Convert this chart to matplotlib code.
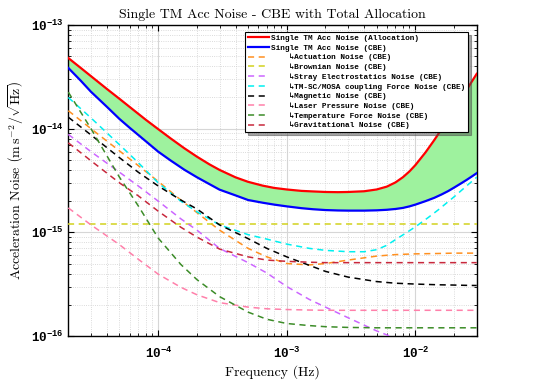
import matplotlib
matplotlib.use("Agg")
from matplotlib import pyplot as plt
from matplotlib.ticker import NullFormatter

# single test mass acceleration noise budget
plt.rcParams['mathtext.fontset'] = 'custom'
plt.rcParams['mathtext.rm'] = 'cmr10'
plt.rcParams['mathtext.bf'] = 'Liberation Mono:bold'
plt.rcParams['axes.unicode_minus'] = True

# totals get a finer frequency grid so the curves stay smooth
freq_tot = [2e-5, 2.5e-5, 3e-5, 4e-5, 5e-5, 6e-5, 8e-5, 1e-4, 1.25e-4, 1.6e-4, 2e-4, 2.5e-4, 3e-4, 4e-4,
            5e-4, 6.5e-4, 8e-4, 1e-3, 1.3e-3, 1.6e-3, 2e-3, 2.5e-3, 3e-3, 4e-3, 5e-3, 6e-3, 7e-3, 8e-3,
            9e-3, 1e-2, 1.2e-2, 1.4e-2, 1.6e-2, 1.8e-2, 2e-2, 2.25e-2, 2.5e-2, 2.75e-2, 3e-2]
allocation = [4.80e-14, 3.85e-14, 3.21e-14, 2.41e-14, 1.94e-14, 1.62e-14, 1.22e-14, 9.9e-15, 8.05e-15, 6.46e-15,
              5.37e-15, 4.53e-15, 4.0e-15, 3.39e-15, 3.07e-15, 2.82e-15, 2.68e-15, 2.59e-15, 2.51e-15, 2.48e-15,
              2.45e-15, 2.44e-15, 2.45e-15, 2.49e-15, 2.59e-15, 2.76e-15, 3.03e-15, 3.40e-15, 3.87e-15, 4.45e-15,
              5.91e-15, 7.73e-15, 9.9e-15, 1.24e-14, 1.52e-14, 1.91e-14, 2.36e-14, 2.85e-14, 3.38e-14]
cbe_total = [3.85e-14, 2.9e-14, 2.27e-14, 1.62e-14, 1.24e-14, 1.02e-14, 7.57e-15, 6.0e-15, 4.93e-15, 4.01e-15,
             3.4e-15, 2.92e-15, 2.58e-15, 2.27e-15, 2.05e-15, 1.93e-15, 1.85e-15, 1.78e-15, 1.71e-15, 1.67e-15,
             1.64e-15, 1.625e-15, 1.62e-15, 1.62e-15, 1.63e-15, 1.65e-15, 1.68e-15, 1.72e-15, 1.78e-15, 1.85e-15,
             2.0e-15, 2.15e-15, 2.32e-15, 2.5e-15, 2.7e-15, 2.95e-15, 3.2e-15, 3.46e-15, 3.72e-15]

freq = [2e-5, 3e-5, 5e-5, 7e-5, 1e-4, 1.5e-4, 2e-4, 3e-4, 5e-4, 7e-4, 1e-3,
        1.5e-3, 2e-3, 3e-3, 5e-3, 7e-3, 1e-2, 1.5e-2, 2e-2, 2.5e-2, 3e-2]
actuation = [1.49e-14, 1.0e-14, 6.1e-15, 4.4e-15, 3.1e-15, 2.05e-15, 1.55e-15, 1.05e-15, 7.0e-16, 5.8e-16, 5.0e-16,
             4.85e-16, 5.0e-16, 5.4e-16, 5.9e-16, 6.1e-16, 6.2e-16, 6.25e-16, 6.3e-16, 6.3e-16, 6.3e-16]
brownian = [1.21e-15] * len(freq)
stray = [8.8e-15, 6.0e-15, 3.8e-15, 2.8e-15, 2.0e-15, 1.35e-15, 1.05e-15, 7.0e-16, 5.1e-16, 4.05e-16, 3.0e-16,
         2.25e-16, 1.9e-16, 1.5e-16, 1.12e-16, 9.5e-17, 7.8e-17, 6.2e-17, 5.3e-17, 4.7e-17, 4.3e-17]
magnetic = [1.29e-14, 8.7e-15, 5.25e-15, 3.8e-15, 2.8e-15, 2.05e-15, 1.68e-15, 1.18e-15, 8.7e-16, 7.0e-16, 5.8e-16,
            4.8e-16, 4.2e-16, 3.7e-16, 3.35e-16, 3.23e-16, 3.17e-16, 3.12e-16, 3.1e-16, 3.08e-16, 3.07e-16]
laser = [1.72e-15, 1.18e-15, 7.6e-16, 5.5e-16, 3.95e-16, 2.95e-16, 2.5e-16, 2.1e-16, 1.9e-16, 1.83e-16, 1.8e-16,
         1.78e-16, 1.77e-16, 1.77e-16, 1.77e-16, 1.77e-16, 1.77e-16, 1.77e-16, 1.77e-16, 1.77e-16, 1.77e-16]
temperature = [2.25e-14, 1.0e-14, 3.4e-15, 1.8e-15, 8.8e-16, 4.9e-16, 3.5e-16, 2.4e-16, 1.7e-16, 1.45e-16, 1.32e-16,
               1.26e-16, 1.23e-16, 1.21e-16, 1.2e-16, 1.2e-16, 1.2e-16, 1.2e-16, 1.2e-16, 1.2e-16, 1.2e-16]
gravitational = [7.3e-15, 4.9e-15, 3.0e-15, 2.25e-15, 1.6e-15, 1.12e-15, 9.0e-16, 6.9e-16, 5.8e-16, 5.4e-16, 5.25e-16,
                 5.15e-16, 5.1e-16, 5.1e-16, 5.1e-16, 5.1e-16, 5.1e-16, 5.1e-16, 5.1e-16, 5.1e-16, 5.1e-16]

# coupling noise turns up at high f, so it has its own grid too
freq_cpl = [2e-5, 3e-5, 5e-5, 7e-5, 1e-4, 1.5e-4, 2e-4, 3e-4, 5e-4, 7e-4, 1e-3, 1.5e-3, 2e-3, 3e-3, 4e-3,
            5e-3, 6e-3, 7e-3, 8.5e-3, 1e-2, 1.25e-2, 1.5e-2, 2e-2, 2.5e-2, 3e-2]
coupling = [2.0e-14, 1.27e-14, 7.0e-15, 4.7e-15, 3.0e-15, 2.0e-15, 1.58e-15, 1.18e-15, 9.5e-16, 8.6e-16, 7.7e-16,
            7.0e-16, 6.7e-16, 6.5e-16, 6.5e-16, 6.8e-16, 7.5e-16, 8.5e-16, 9.9e-16, 1.13e-15, 1.38e-15, 1.64e-15,
            2.2e-15, 2.8e-15, 3.4e-15]

components = [
    ("Actuation Noise (CBE)", freq, actuation, "#ff9020"),
    ("Brownian Noise (CBE)", freq, brownian, "#d2d21e"),
    ("Stray Electrostatics Noise (CBE)", freq, stray, "#cc66ff"),
    ("TM-SC/MOSA coupling Force Noise (CBE)", freq_cpl, coupling, "#00f0f0"),
    ("Magnetic Noise (CBE)", freq, magnetic, "#000000"),
    ("Laser Pressure Noise (CBE)", freq, laser, "#ff80aa"),
    ("Temperature Force Noise (CBE)", freq, temperature, "#3c8c28"),
    ("Gravitational Noise (CBE)", freq, gravitational, "#c8283c"),
]

fig = plt.figure(figsize=(5.4, 3.82), dpi=100)
ax = fig.add_axes([0.1265, 0.1204, 0.7563, 0.8142])

ax.fill_between(freq_tot, cbe_total, allocation, color="#9ef29e", lw=0, zorder=1)

ax.plot(freq_tot, allocation, color="#ff0000", lw=1.6, zorder=4, label="Single TM Acc Noise (Allocation)")
ax.plot(freq_tot, cbe_total, color="#0000ff", lw=1.6, zorder=4, label="Single TM Acc Noise (CBE)")
for name, f, vals, col in components:
    ax.plot(f, vals, color=col, lw=1.1, ls=(0, (4, 3)), zorder=3, label="    \u21b3" + name)

ax.set_xscale("log")
ax.set_yscale("log")
ax.set_xlim(2e-5, 3e-2)
ax.set_ylim(1e-16, 1e-13)

ax.set_xticks([1e-4, 1e-3, 1e-2], [r"$\mathbf{10^{-4}}$", r"$\mathbf{10^{-3}}$", r"$\mathbf{10^{-2}}$"])
ax.set_yticks([1e-16, 1e-15, 1e-14, 1e-13],
              [r"$\mathbf{10^{-16}}$", r"$\mathbf{10^{-15}}$", r"$\mathbf{10^{-14}}$", r"$\mathbf{10^{-13}}$"])
ax.xaxis.set_minor_formatter(NullFormatter())
ax.yaxis.set_minor_formatter(NullFormatter())
ax.tick_params(which="both", direction="in", top=True, right=True, labelsize=9)
ax.tick_params(which="major", length=4, width=0.8)
ax.tick_params(which="minor", length=2, width=0.6)
ax.tick_params(axis="x", pad=7)
for s in ax.spines.values():
    s.set_linewidth(1.0)

ax.grid(True, which="major", color="#d6d6d6", lw=0.8, ls="-", zorder=0)
ax.grid(True, which="minor", color="#cfcfcf", lw=0.6, ls=":", zorder=0)
ax.set_axisbelow(True)

ax.set_title("Single TM Acc Noise - CBE with Total Allocation", fontfamily="cmr10", fontsize=10, pad=5)
ax.set_xlabel("Frequency (Hz)", fontfamily="cmr10", fontsize=10, labelpad=3)
ax.set_ylabel(r"Acceleration Noise $\left(\mathrm{m\,s^{-2}}/\sqrt{\mathrm{Hz}}\right)$",
              fontfamily="cmr10", fontsize=10)
ax.yaxis.set_label_coords(-0.103, 0.5)

leg = ax.legend(loc="upper right", bbox_to_anchor=(0.988, 0.99), fancybox=False, shadow=True, framealpha=1,
                edgecolor="black", handlelength=2.7, handletextpad=0.3, labelspacing=0.28, borderpad=0.35,
                prop={"family": ["Liberation Mono", "DejaVu Sans Mono"], "weight": "bold", "size": 5.6})
leg.get_frame().set_linewidth(0.8)
leg.set_zorder(10)

fig.savefig("out.png", dpi=100)
